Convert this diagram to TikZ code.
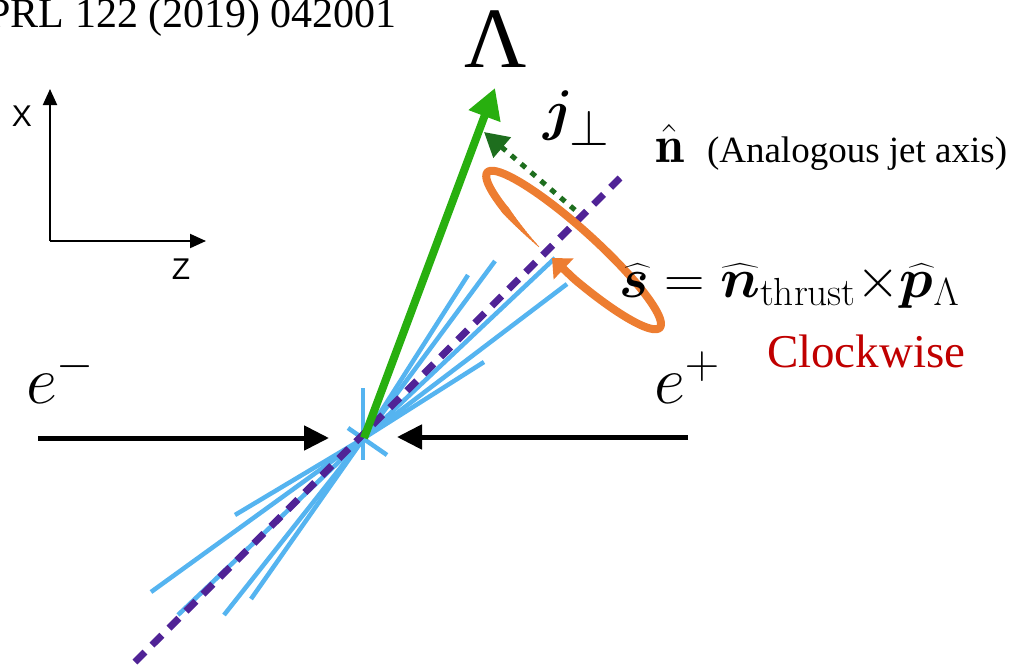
\RequirePackage{fix-cm}
\documentclass[tikz,border=0pt]{standalone}
\usepackage{exscale}
\usepackage{fontspec}
\usepackage{bm}
\usepackage{graphicx}
\usetikzlibrary{arrows.meta}
\newfontfamily\tnr{Liberation Serif}
\newfontfamily\arl{Liberation Sans}
\definecolor{lblue}{RGB}{85,180,240}
\definecolor{mgreen}{RGB}{40,175,15}
\definecolor{dgreen}{RGB}{30,110,30}
\definecolor{purp}{RGB}{80,35,150}
\definecolor{orng}{RGB}{237,125,49}
\definecolor{dred}{RGB}{192,0,0}
\tikzset{
  txt/.style={inner sep=0pt, outer sep=0pt},
  blueline/.style={draw=lblue, line width=4.5pt},
  axisarrow/.style={draw=black, line width=2pt, -{Triangle[length=16pt,width=14pt]}},
  beamarrow/.style={draw=black, line width=5pt, -{Triangle[length=25pt,width=24pt]}},
  lamarrow/.style={draw=mgreen, line width=8pt, -{Triangle[length=30pt,width=32pt]}},
  jarrow/.style={draw=dgreen, line width=5pt, dash pattern=on 6pt off 7pt, -{Triangle[length=24pt,width=26pt]}},
  jetaxis/.style={draw=purp, line width=7pt, dash pattern=on 14pt off 10pt},
  spinarc/.style={draw=orng, line width=8pt}
}
\begin{document}
\begin{tikzpicture}[x=1pt,y=-1pt]
\useasboundingbox (0,0) rectangle (1015,667);
% centre
\coordinate (C) at (364,438);
% jet lines
\foreach \p in {(495,261),(468,275),(555,258),(567,284),(484,362),(235,515),(151,592),(178,615),(224,615),(251,599)}
  \draw[blueline] (C) -- \p;
\coordinate (cv1) at (363,388); \coordinate (cv2) at (363,460);
\coordinate (cd1) at (348,428); \coordinate (cd2) at (387,455);
\draw[blueline] (cv1) -- (cv2);
\draw[blueline] (cd1) -- (cd2);
% jet axis
\coordinate (pa) at (135,662); \coordinate (pb) at (620,178);
\draw[jetaxis] (pa) -- (pb);
% j perp
\coordinate (js) at (575,210); \coordinate (jt) at (484,132);
\draw[jarrow] (js) -- (jt);
% Lambda momentum
\coordinate (lt) at (495,88);
\draw[lamarrow] (C) -- (lt);
% beams
\coordinate (bl) at (38,438); \coordinate (blt) at (329,438);
\coordinate (br) at (688,437); \coordinate (brt) at (397,437);
\draw[beamarrow] (bl) -- (blt);
\draw[beamarrow] (br) -- (brt);
% spin ellipse
\foreach \i in {0,...,13}{
  \pgfmathsetmacro\ta{256-2*\i}
  \pgfmathsetmacro\tb{\ta-2.6}
  \pgfmathsetmacro\w{0.8+0.55*\i}
  \draw[orng, line width=\w pt, line cap=round]
    ({573.6+116*cos(\ta)*0.743+21.5*sin(\ta)*0.669},{250+116*cos(\ta)*0.669-21.5*sin(\ta)*0.743}) --
    ({573.6+116*cos(\tb)*0.743+21.5*sin(\tb)*0.669},{250+116*cos(\tb)*0.669-21.5*sin(\tb)*0.743});
}
\coordinate (st) at (552,258);
\draw[spinarc, -{Triangle[length=16pt,width=28pt]}]
  plot[domain=229:-80, samples=120, smooth] ({573.6+116*cos(\x)*0.743+21.5*sin(\x)*0.669},{250+116*cos(\x)*0.669-21.5*sin(\x)*0.743}) -- (st);
% axes
\coordinate (O) at (50,241); \coordinate (xt) at (50,89); \coordinate (zt) at (206,241);
\draw[axisarrow] (O) -- (xt);
\draw[axisarrow] (O) -- (zt);
\node[txt, font=\arl\fontsize{30}{36}\selectfont] (xl) at (22,116) {X};
\node[txt, font=\arl\fontsize{30}{36}\selectfont] (zl) at (181,269) {Z};
% texts
\node[txt, anchor=base east, font=\tnr\fontsize{42}{48}\selectfont] (prl) at (397,27) {PRL 122 (2019) 042001};
\node[txt, anchor=base, font=\tnr\fontsize{86}{90}\selectfont] (lam) at (496,67) {Λ};
\node[txt, anchor=base west, font=\fontsize{56}{60}\selectfont] (jp) at (543,129) {$\bm{j}_{\scalebox{1.3}{$\scriptstyle\perp$}}$};
\node[txt, anchor=base west, font=\fontsize{52}{56}\selectfont] (nh) at (655,162) {$\hat{\mathbf{n}}$};
\node[txt, anchor=base west, font=\tnr\fontsize{37}{40}\selectfont] (ana) at (707,162) {(Analogous jet axis)};
\node[txt, anchor=base west, font=\fontsize{56}{60}\selectfont] (eq) at (619,297) {$\widehat{\bm{s}}=\widehat{\bm{n}}_{\mathrm{thrust}}{\times}\widehat{\bm{p}}_{\Lambda}$};
\node[txt, anchor=base west, text=dred, font=\tnr\fontsize{47}{50}\selectfont] (cw) at (767,367) {Clockwise};
\node[txt, anchor=base west, font=\fontsize{68}{72}\selectfont] (em) at (26,403) {$e^-$};
\node[txt, anchor=base west, font=\fontsize{68}{72}\selectfont] (ep) at (654,403) {$e^+$};
\end{tikzpicture}
\end{document}
